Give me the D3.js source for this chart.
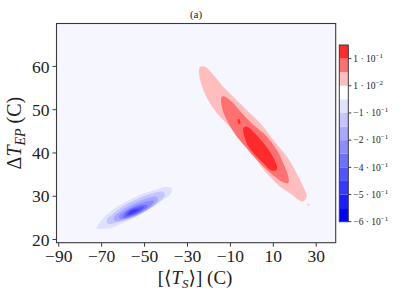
<!DOCTYPE html>
<html>
<head>
<meta charset="utf-8">
<script src="https://cdn.jsdelivr.net/npm/d3@7"></script>
<style>
  body { margin: 0; background: #fff; }
  svg text { font-family: "Liberation Serif", "DejaVu Serif", serif; fill: #222; }
</style>
</head>
<body>
<div class="contour-container"></div>
<script>
// Data
const xTicks = [-90, -70, -50, -30, -10, 10, 30];
const yTicks = [20, 30, 40, 50, 60];

// colorbar bands, bottom -> top
const bandColors = ['#0000ff', '#1c1cff', '#3838ff', '#5454ff', '#7070ff', '#8c8cff',
  '#a8a8ff', '#c4c4ff', '#e0e0ff', '#ffffff', '#ffbebe', '#ff7070', '#ff2a2a'];
const cbarTickIndex = [0, 2, 4, 6, 8, 10, 12];
const cbarTickMant = ['\u22126', '\u22125', '\u22124', '\u22122', '\u22121', '1', '1'];
const cbarTickExp = ['\u22121', '\u22121', '\u22121', '\u22121', '\u22121', '\u22122', '\u22121'];

// contour outlines: [Ts, dTep]
const redOuter = [[-23.9, 59.8], [-21.6, 59.8], [-17.7, 57.9], [-13.1, 55.2], [-8.4, 52.9], [-2.2, 49.8],
  [4.0, 46.8], [10.2, 42.9], [16.5, 39.1], [21.1, 35.2], [24.2, 32.1], [25.8, 29.8], [24.2, 28.7],
  [21.9, 29.1], [18.0, 30.6], [13.4, 32.1], [7.2, 35.2], [2.5, 38.3], [-2.2, 42.2], [-8.4, 45.2],
  [-14.6, 48.3], [-19.3, 51.4], [-22.4, 54.5], [-23.9, 56.8], [-24.4, 58.7]];
const redMid = [[-13.8, 52.9], [-12.3, 52.9], [-8.4, 51.4], [-3.75, 48.7], [0.9, 46.4], [7.2, 43.7],
  [11.8, 40.6], [14.9, 37.5], [17.2, 34.4], [17.2, 32.9], [14.9, 33.1], [11.8, 34.1], [7.2, 36.0],
  [2.5, 38.3], [-2.2, 41.0], [-6.8, 43.7], [-11.5, 47.5], [-13.8, 50.6]];
const redInner = [[-3.75, 45.6], [-2.2, 46.0], [0.9, 44.8], [5.6, 42.2], [9.5, 39.5], [11.8, 37.1],
  [11.8, 36.0], [9.5, 35.8], [5.6, 37.5], [1.7, 39.5], [-1.4, 41.4], [-2.95, 43.3]];
const redSpot = [[-6.3, 47.6], [-5.6, 47.7], [-5.1, 46.9], [-5.6, 46.5], [-6.2, 46.8]];
const redDot = [[26.3, 28.1], [26.9, 28.1], [26.9, 27.7], [26.3, 27.7]];

const blueL1 = [[-72.1, 22.5], [-65.9, 22.5], [-59.7, 23.7], [-51.9, 25.6], [-45.7, 27.5], [-41.05, 29.1],
  [-38.7, 29.8], [-37.1, 31.0], [-37.1, 31.8], [-40.3, 32.0], [-45.7, 31.2], [-51.9, 30.2],
  [-58.1, 28.7], [-64.4, 26.8], [-69.0, 24.85], [-71.35, 23.3]];
const blueL2 = [[-66.8, 23.5], [-62.2, 23.8], [-55.6, 24.9], [-49.1, 26.5], [-43.5, 28.4], [-40.3, 30.2],
  [-41.2, 30.9], [-46.3, 30.5], [-52.8, 29.3], [-59.4, 27.7], [-64.5, 25.8], [-67.3, 24.5]];
const blueL3 = [[-63.6, 24.2], [-58.9, 24.5], [-52.8, 25.6], [-47.25, 27.2], [-43.5, 29.1], [-44.5, 29.8],
  [-49.1, 29.3], [-55.2, 28.1], [-60.8, 26.5], [-64.0, 25.1]];
const blueL4 = [[-61.2, 24.7], [-56.6, 25.1], [-51.0, 26.3], [-46.3, 27.9], [-45.4, 28.8], [-49.1, 28.6],
  [-54.7, 27.7], [-59.4, 26.3], [-61.7, 25.4]];
const blueL5 = [[-59.8, 24.9], [-55.6, 25.4], [-51.0, 26.5], [-48.2, 27.7], [-50.5, 27.9], [-55.2, 27.2],
  [-58.9, 26.1]];
const blueL6 = [[-58.4, 25.4], [-54.7, 25.8], [-51.0, 26.8], [-50.0, 27.5], [-53.3, 27.2], [-57.0, 26.5]];
const blueL7 = [[-57.5, 25.6], [-54.7, 26.1], [-52.4, 26.8], [-54.2, 26.8], [-56.6, 26.3]];

// shape + colour band index, drawn in this order
const contourBands = [
  { pts: redOuter, band: 10 }, { pts: redMid, band: 11 }, { pts: redInner, band: 12 },
  { pts: redSpot, band: 12 }, { pts: redDot, band: 10 },
  { pts: blueL1, band: 8 }, { pts: blueL2, band: 7 }, { pts: blueL3, band: 6 },
  { pts: blueL4, band: 5 }, { pts: blueL5, band: 4 }, { pts: blueL6, band: 3 },
  { pts: blueL7, band: 2 }
];

// Canvas
const svg_width = 407;
const svg_height = 300;
const plot = { left: 56.5, right: 335.7, top: 23.5, bottom: 242.7 };
const cbar = { left: 339.3, right: 348.3, top: 45, bottom: 221.7 };

const svg = d3.select('.contour-container').append('svg')
  .attr('width', svg_width).attr('height', svg_height);

const xScale = d3.scaleLinear().domain([-90.8, 39.3]).range([plot.left, plot.right]);
const yScale = d3.scaleLinear().domain([19.15, 69.8]).range([plot.bottom, plot.top]);

// background
svg.append('rect')
  .attr('x', plot.left).attr('y', plot.top)
  .attr('width', plot.right - plot.left).attr('height', plot.bottom - plot.top)
  .style('fill', '#f5f6fe');

// filled contours
svg.append('clipPath').attr('id', 'plot-clip').append('rect')
  .attr('x', plot.left).attr('y', plot.top)
  .attr('width', plot.right - plot.left).attr('height', plot.bottom - plot.top);

const line = d3.line().x(d => xScale(d[0])).y(d => yScale(d[1]))
  .curve(d3.curveCatmullRomClosed);

svg.append('g').attr('clip-path', 'url(#plot-clip)')
  .selectAll('path').data(contourBands).enter().append('path')
  .attr('d', d => line(d.pts))
  .style('fill', d => bandColors[d.band])
  .style('stroke', 'none');

// frame
svg.append('rect')
  .attr('x', plot.left).attr('y', plot.top)
  .attr('width', plot.right - plot.left).attr('height', plot.bottom - plot.top)
  .style('fill', 'none').style('stroke', '#3a3a3a').style('stroke-width', 1.1);

// axes
const xAxis = d3.axisBottom(xScale).tickValues(xTicks)
  .tickFormat(d => d3.format('d')(d).replace('-', '\u2212'))
  .tickSizeInner(4).tickSizeOuter(0).tickPadding(3);
const xAxisDraw = svg.append('g').attr('class', 'x axis')
  .attr('transform', `translate(0,${plot.bottom})`).call(xAxis);
xAxisDraw.select('.domain').remove();
xAxisDraw.selectAll('text').style('font-size', '17.5px').style('fill', '#222');
xAxisDraw.selectAll('line').style('stroke', '#3a3a3a');

const yAxis = d3.axisLeft(yScale).tickValues(yTicks)
  .tickSizeInner(4).tickSizeOuter(0).tickPadding(3);
const yAxisDraw = svg.append('g').attr('class', 'y axis')
  .attr('transform', `translate(${plot.left},0)`).call(yAxis);
yAxisDraw.select('.domain').remove();
yAxisDraw.selectAll('text').style('font-size', '17.5px').style('fill', '#222').attr('dy', '0.35em');
yAxisDraw.selectAll('line').style('stroke', '#3a3a3a');

// labels
const xLabel = svg.append('text')
  .attr('x', (plot.left + plot.right) / 2 - 1).attr('y', 284)
  .style('text-anchor', 'middle').style('font-size', '19px');
xLabel.append('tspan').text('[\u27e8');
xLabel.append('tspan').text('T').style('font-style', 'italic');
xLabel.append('tspan').text('S').style('font-style', 'italic').style('font-size', '13px').attr('dy', 4);
xLabel.append('tspan').text('\u27e9] (C)').attr('dy', -4);

const yLabel = svg.append('text')
  .attr('transform', `translate(21,${(plot.top + plot.bottom) / 2}) rotate(-90)`)
  .style('text-anchor', 'middle').style('font-size', '20px');
yLabel.append('tspan').text('\u0394');
yLabel.append('tspan').text('T').style('font-style', 'italic');
yLabel.append('tspan').text('EP').style('font-style', 'italic').style('font-size', '14px').attr('dy', 4);
yLabel.append('tspan').text(' (C)').attr('dy', -4);

svg.append('text').attr('x', 196).attr('y', 18)
  .style('text-anchor', 'middle').style('font-size', '11px').text('(a)');

// colorbar
const cScale = d3.scaleLinear().domain([0, bandColors.length]).range([cbar.bottom, cbar.top]);
svg.append('g').selectAll('rect').data(bandColors).enter().append('rect')
  .attr('x', cbar.left).attr('width', cbar.right - cbar.left)
  .attr('y', (d, i) => cScale(i + 1)).attr('height', (d, i) => cScale(i) - cScale(i + 1))
  .style('fill', d => d);
svg.append('rect')
  .attr('x', cbar.left).attr('y', cbar.top)
  .attr('width', cbar.right - cbar.left).attr('height', cbar.bottom - cbar.top)
  .style('fill', 'none').style('stroke', '#3a3a3a').style('stroke-width', 1);

const cTicks = svg.append('g').selectAll('g').data(cbarTickIndex).enter().append('g')
  .attr('transform', d => `translate(${cbar.right},${cScale(d)})`);
cTicks.append('line').attr('x1', 0).attr('x2', 3).style('stroke', '#3a3a3a');
const cText = cTicks.append('text').attr('x', 5).attr('dy', '0.35em').style('font-size', '9.5px');
cText.append('tspan').text((d, i) => cbarTickMant[i] + ' \u00b7 10');
cText.append('tspan').text((d, i) => cbarTickExp[i]).style('font-size', '7px').attr('dy', -4);
</script>
</body>
</html>
